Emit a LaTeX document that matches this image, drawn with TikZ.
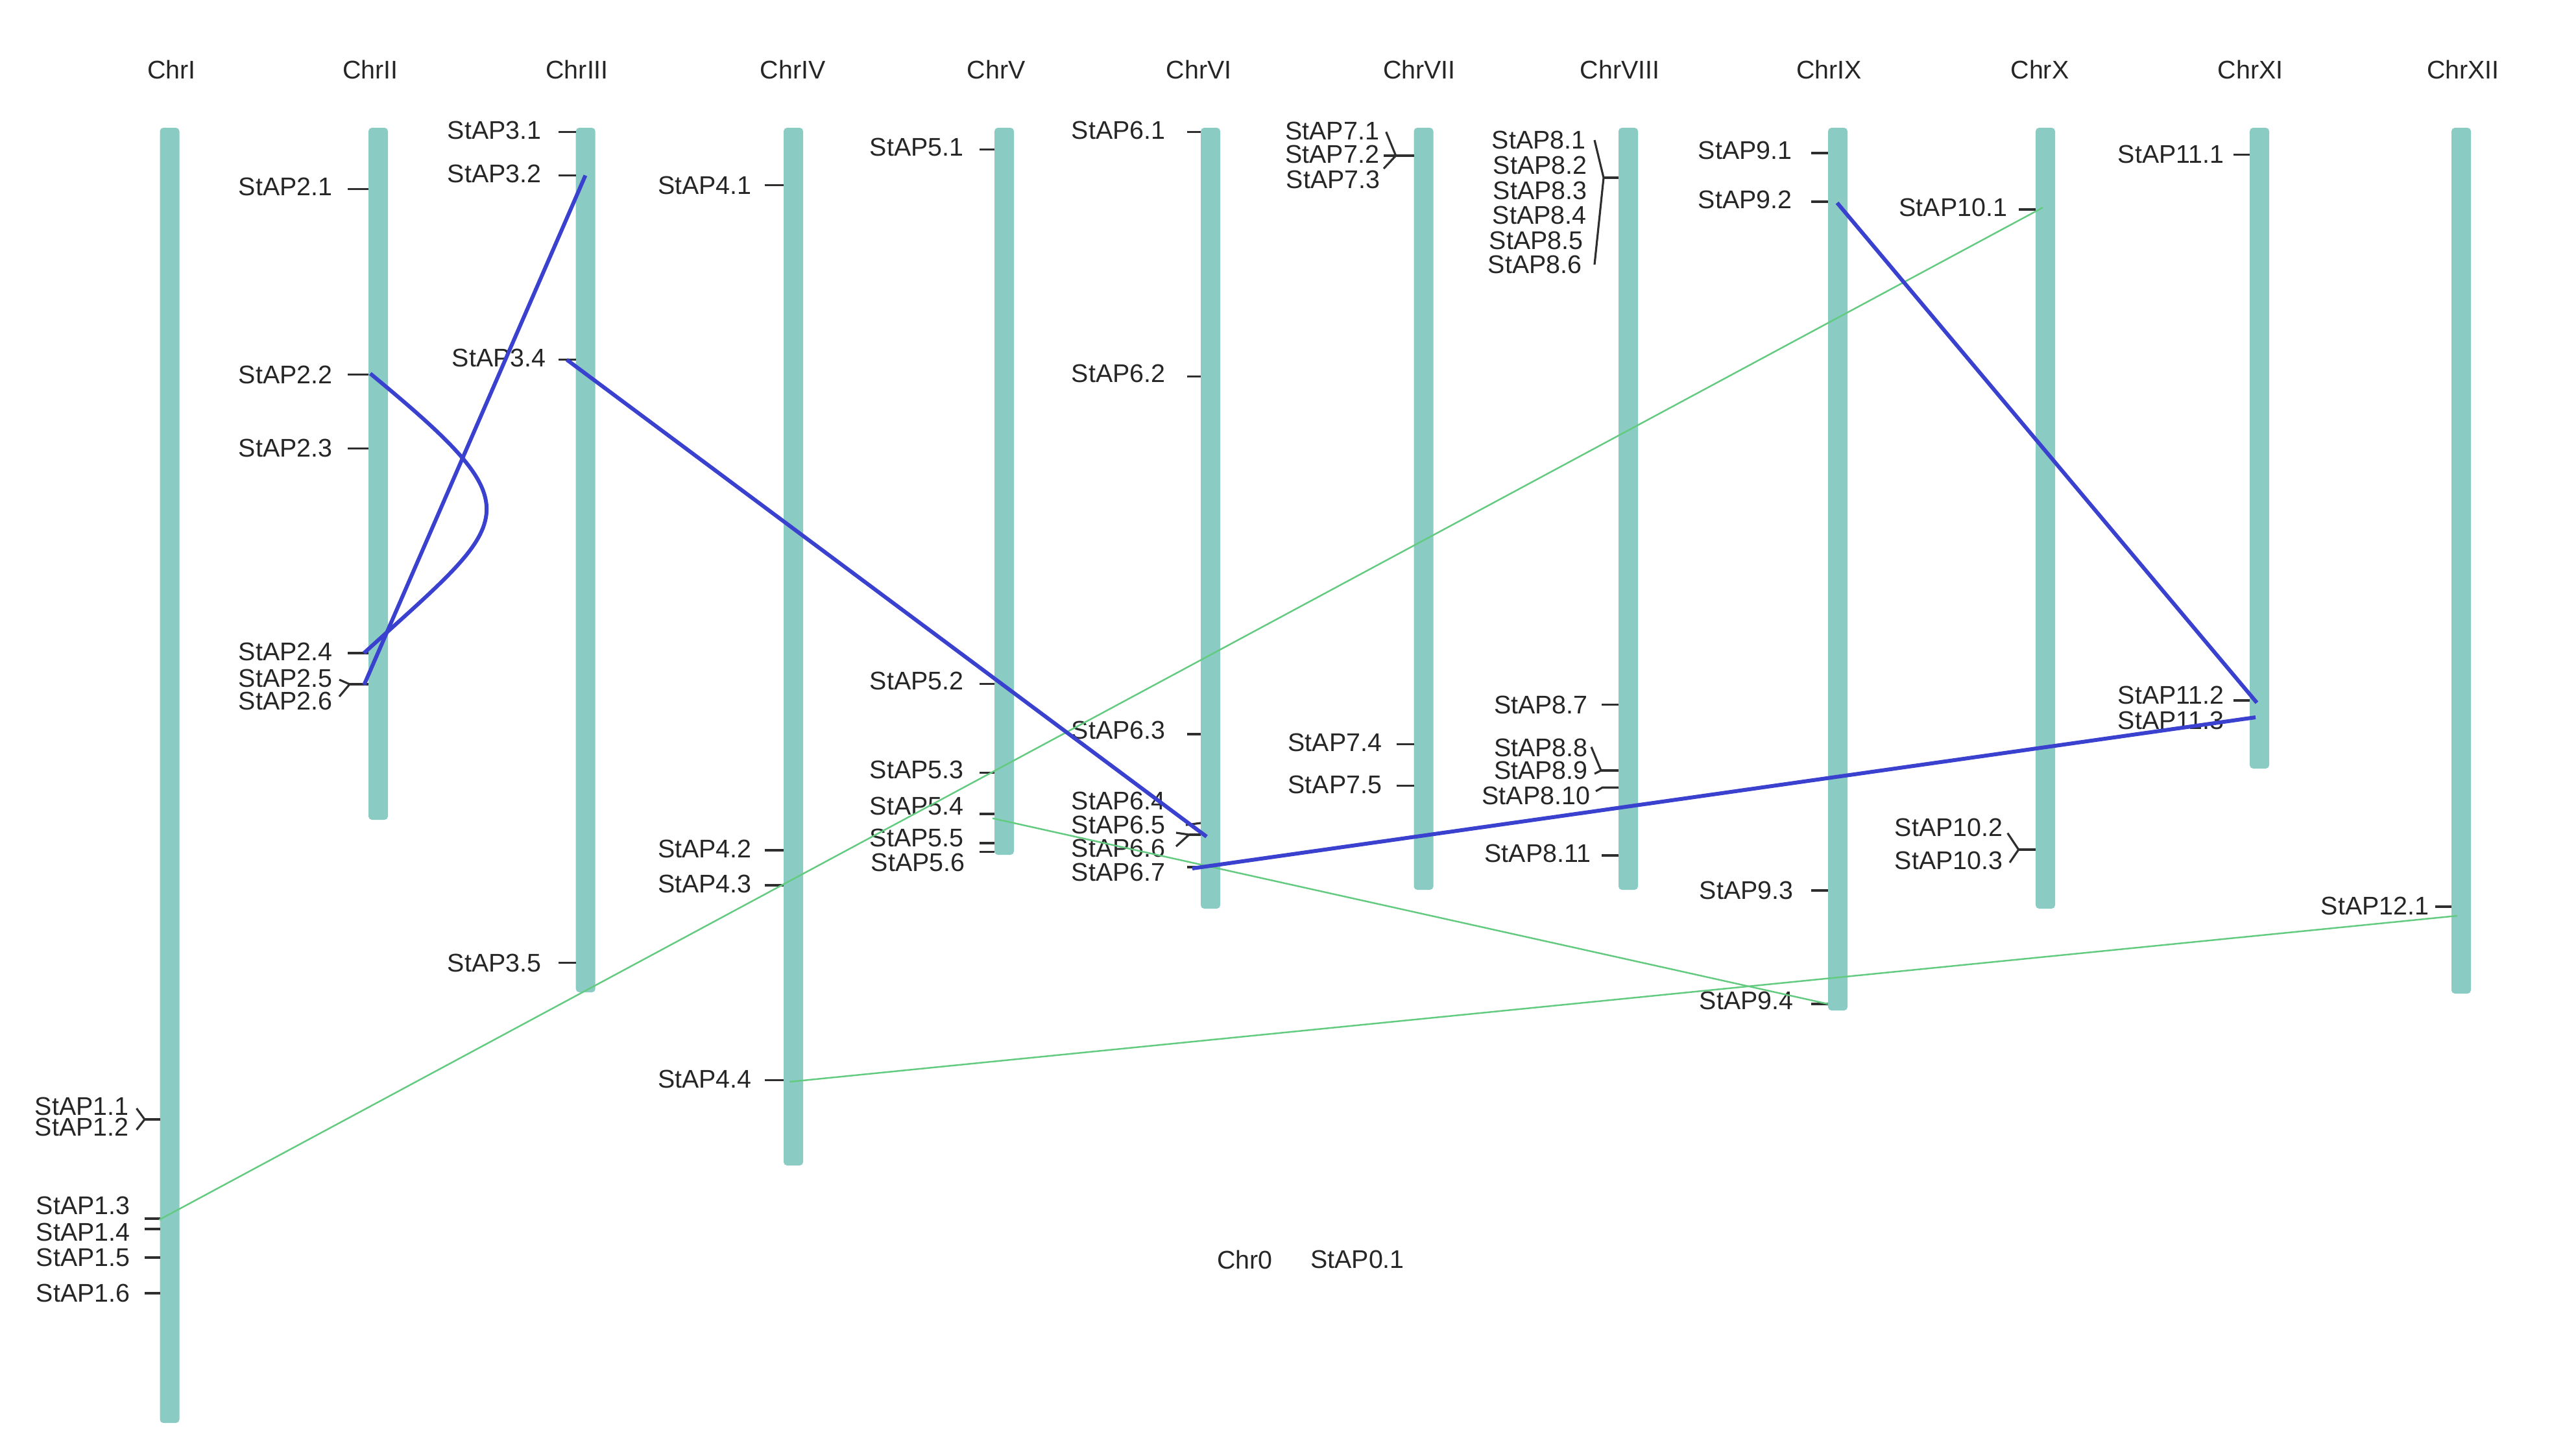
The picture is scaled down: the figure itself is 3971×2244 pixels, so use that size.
\documentclass[tikz,border=0pt]{standalone}
\usepackage{fontspec}
\setmainfont{Liberation Sans}
\definecolor{barc}{HTML}{8ACBC3}
\definecolor{tickc}{HTML}{2E2E2E}
\definecolor{txtc}{HTML}{262626}
\definecolor{bluec}{HTML}{3A41CF}
\definecolor{greenc}{HTML}{63CB80}
% #1 name, #2 tick x start, #3 tick x end, #4 tick y, #5 label right x, #6 label y, #7 text
\newcommand{\mk}[7]{\draw[tick] (#2,#4) -- (#3,#4) coordinate (#1); \node[lab] (#1L) at (#5,#6) {#7};}
\begin{document}
\begin{tikzpicture}[x=0.01cm,y=-0.01cm,
  bar/.style={fill=barc,rounded corners=1.5pt},
  tick/.style={draw=tickc,line width=0.9pt},
  lab/.style={anchor=east,inner sep=0pt,text=txtc,font=\fontsize{11.2}{13}\selectfont},
  ttl/.style={anchor=center,inner sep=0pt,text=txtc,font=\fontsize{11.2}{13}\selectfont},
  blueln/.style={draw=bluec,line width=1.7pt},
  greenln/.style={draw=greenc,line width=0.7pt}]
\useasboundingbox (0,0) rectangle (3971,2244);
\fill[white] (0,0) rectangle (3971,2244);

% titles
\node[ttl] (tI) at (264.7,107) {ChrI};
\node[ttl] (tII) at (571,107) {ChrII};
\node[ttl] (tIII) at (889.7,107) {ChrIII};
\node[ttl] (tIV) at (1222,107) {ChrIV};
\node[ttl] (tV) at (1535.7,107) {ChrV};
\node[ttl] (tVI) at (1848,107) {ChrVI};
\node[ttl] (tVII) at (2188,107) {ChrVII};
\node[ttl] (tVIII) at (2497,107) {ChrVIII};
\node[ttl] (tIX) at (2819.5,107) {ChrIX};
\node[ttl] (tX) at (3144.5,107) {ChrX};
\node[ttl] (tXI) at (3469,107) {ChrXI};
\node[ttl] (tXII) at (3797,107) {ChrXII};

% bars
\fill[bar] (246.5,197) rectangle (276.5,2194);
\fill[bar] (568,197) rectangle (598,1264);
\fill[bar] (887.7,197) rectangle (917.7,1530);
\fill[bar] (1208,197) rectangle (1238,1797);
\fill[bar] (1533,197) rectangle (1563,1318);
\fill[bar] (1851,197) rectangle (1881,1401);
\fill[bar] (2179.5,197) rectangle (2209.5,1372);
\fill[bar] (2495,197) rectangle (2525,1372);
\fill[bar] (2818,197) rectangle (2848,1558);
\fill[bar] (3138,197) rectangle (3168,1401);
\fill[bar] (3468,197) rectangle (3498,1185);
\fill[bar] (3779,197) rectangle (3809,1532);

% Chr I
\node[lab] (m11) at (199,1705.6) {StAP1.1};
\node[lab] (m12) at (199,1738.4) {StAP1.2};
\draw[tick] (210.5,1709) -- (223,1726) -- (210.5,1742);
\draw[tick] (223,1726) -- (246.5,1726);
\mk{m13}{223}{246.5}{1879}{201}{1859}{StAP1.3}
\mk{m14}{223}{246.5}{1895}{201}{1900}{StAP1.4}
\mk{m15}{223}{246.5}{1939}{201}{1939}{StAP1.5}
\mk{m16}{223}{246.5}{1994}{201}{1994}{StAP1.6}

% Chr II
\mk{m21}{535.7}{568}{291.5}{513}{288}{StAP2.1}
\mk{m22}{535.7}{568}{577.7}{513}{577.7}{StAP2.2}
\mk{m23}{535.7}{568}{691.4}{513}{691.4}{StAP2.3}
\mk{m24}{535.7}{568}{1007}{513}{1005}{StAP2.4}
\node[lab] (m25) at (513,1045.6) {StAP2.5};
\node[lab] (m26) at (513,1080.7) {StAP2.6};
\draw[tick] (523,1048) -- (539,1055) -- (523,1074);
\draw[tick] (539,1055) -- (568,1055);

% Chr III
\mk{m31}{861}{887.7}{203.8}{835}{201}{StAP3.1}
\mk{m32}{861}{887.7}{270.5}{835}{268}{StAP3.2}
\mk{m34}{861}{887.7}{554.6}{842}{552}{StAP3.4}
\mk{m35}{861}{887.7}{1484.5}{835}{1485}{StAP3.5}

% Chr IV
\mk{m41}{1178.6}{1208}{285.9}{1159.4}{285.9}{StAP4.1}
\mk{m42}{1178.6}{1208}{1311}{1159.4}{1309}{StAP4.2}
\mk{m43}{1178.6}{1208}{1365}{1159.4}{1363}{StAP4.3}
\mk{m44}{1178.6}{1208}{1665.4}{1159.4}{1664}{StAP4.4}

% Chr V
\mk{m51}{1510}{1533}{230.5}{1486}{227}{StAP5.1}
\mk{m52}{1510}{1533}{1054.7}{1486}{1050}{StAP5.2}
\mk{m53}{1510}{1533}{1191.7}{1486}{1186.7}{StAP5.3}
\mk{m54}{1510}{1533}{1255}{1486}{1243}{StAP5.4}
\mk{m55}{1510}{1533}{1300}{1486}{1291.7}{StAP5.5}
\mk{m56}{1510}{1533}{1313.3}{1488}{1330}{StAP5.6}

% Chr VI
\mk{m61}{1830}{1851}{203.8}{1797}{201}{StAP6.1}
\mk{m62}{1830}{1851}{580.5}{1797}{576}{StAP6.2}
\mk{m63}{1830}{1851}{1132}{1797}{1126}{StAP6.3}
\node[lab] (m64) at (1797,1235) {StAP6.4};
\node[lab] (m65) at (1797,1271.7) {StAP6.5};
\node[lab] (m66) at (1797,1308) {StAP6.6};
\node[lab] (m67) at (1797,1345) {StAP6.7};
\draw[tick] (1828,1272) -- (1851,1269);
\draw[tick] (1813,1284) -- (1833,1287) -- (1813,1305);
\draw[tick] (1833,1287) -- (1851,1287);
\draw[tick] (1830,1337) -- (1851,1337);

% Chr VII
\node[lab] (m71) at (2126.7,201.7) {StAP7.1};
\node[lab] (m72) at (2126.7,238) {StAP7.2};
\node[lab] (m73) at (2128,276.7) {StAP7.3};
\draw[tick] (2136.7,203.3) -- (2151.7,240) -- (2133,260);
\draw[tick] (2133,240) -- (2179.5,240);
\mk{m74}{2153}{2179.5}{1147.5}{2130.7}{1145}{StAP7.4}
\mk{m75}{2153}{2179.5}{1211.8}{2130.7}{1210}{StAP7.5}

% Chr VIII
\node[lab] (m81) at (2445,216) {StAP8.1};
\node[lab] (m82) at (2447,254.6) {StAP8.2};
\node[lab] (m83) at (2447,294) {StAP8.3};
\node[lab] (m84) at (2446,332.3) {StAP8.4};
\node[lab] (m85) at (2441,370.7) {StAP8.5};
\node[lab] (m86) at (2439,408) {StAP8.6};
\draw[tick] (2458,216) -- (2472,274) -- (2458,408);
\draw[tick] (2472,274) -- (2495,274);
\mk{m87}{2469}{2495}{1086.8}{2448.3}{1086.8}{StAP8.7}
\node[lab] (m88) at (2448.3,1153.3) {StAP8.8};
\node[lab] (m89) at (2448.3,1188) {StAP8.9};
\node[lab] (m810) at (2451.7,1226.7) {StAP8.10};
\draw[tick] (2453,1151.7) -- (2468,1188) -- (2458,1193);
\draw[tick] (2468,1188) -- (2495,1188);
\draw[tick] (2460,1220) -- (2470,1214.3) -- (2495,1214.3);
\mk{m811}{2469}{2495}{1319}{2452.8}{1316}{StAP8.11}

% Chr IX
\mk{m91}{2792}{2818}{236}{2763}{232}{StAP9.1}
\mk{m92}{2792}{2818}{311}{2763}{308}{StAP9.2}
\mk{m93}{2792}{2818}{1373}{2765}{1373}{StAP9.3}
\mk{m94}{2792}{2818}{1548}{2765}{1543}{StAP9.4}

% Chr X
\mk{m101}{3111.7}{3138}{323}{3094.7}{320}{StAP10.1}
\node[lab] (m102) at (3088,1276) {StAP10.2};
\node[lab] (m103) at (3088,1327) {StAP10.3};
\draw[tick] (3094.7,1284.5) -- (3111.7,1310) -- (3098,1330);
\draw[tick] (3111.7,1310) -- (3138,1310);

% Chr XI
\mk{m111}{3443}{3468}{238.6}{3429}{238}{StAP11.1}
\mk{m112}{3443}{3468}{1080}{3429}{1072}{StAP11.2}
\node[lab] (m113) at (3429,1111) {StAP11.3};

% Chr XII
\mk{m121}{3754}{3779}{1398}{3745}{1396.7}{StAP12.1}

% Chr0
\node[ttl] (c0) at (1919,1942) {Chr0};
\node[ttl] (s01) at (2092.5,1942) {StAP0.1};

% connector end points
\coordinate (c32) at (902.4,270.5);
\coordinate (c25) at (561.2,1056);
\coordinate (c22) at (570.8,576);
\coordinate (c24) at (561,1007);
\coordinate (c34) at (873.7,554.6);
\coordinate (c65) at (1860,1290);
\coordinate (c67) at (1838,1339);
\coordinate (c113) at (3477,1106);
\coordinate (c92) at (2832,312.7);
\coordinate (c112) at (3479,1083.5);
\coordinate (c13) at (245.5,1880.7);
\coordinate (c101) at (3149,320);
\coordinate (c54) at (1530,1261.7);
\coordinate (c94) at (2818,1548);
\coordinate (c44) at (1217,1668);
\coordinate (c121) at (3788,1412);

% green links
\draw[greenln] (c13) -- (c101);
\draw[greenln] (c54) -- (c94);
\draw[greenln] (c44) -- (c121);

% blue links
\draw[blueln] (c32) -- (c25);
\draw[blueln] (c22) .. controls (830,790) and (792,797) .. (c24);
\draw[blueln] (c34) -- (c65);
\draw[blueln] (c67) -- (c113);
\draw[blueln] (c92) -- (c112);
\end{tikzpicture}
\end{document}
